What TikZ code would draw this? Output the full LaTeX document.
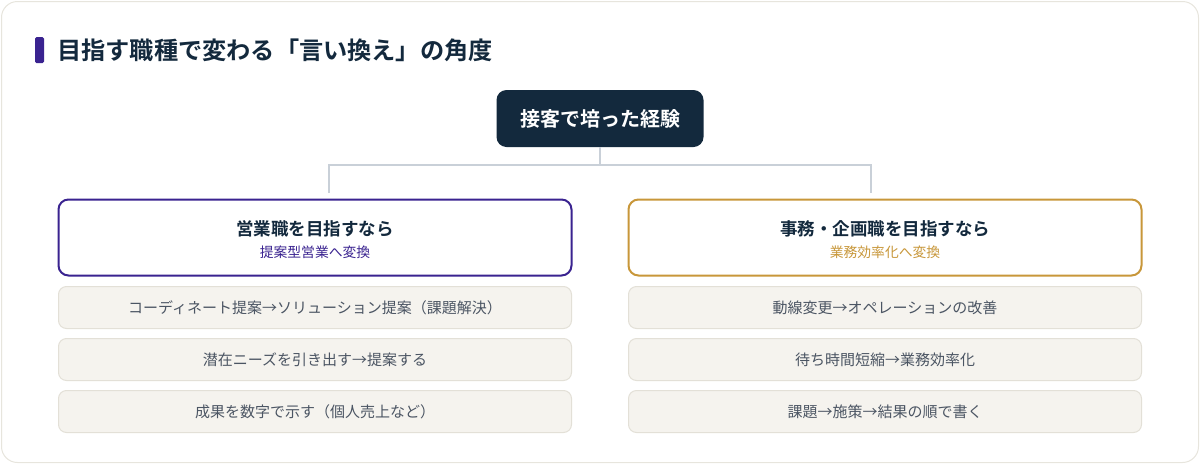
\documentclass[tikz,border=0pt]{standalone}
\usepackage{fontspec}
\setmainfont{Noto Sans CJK JP}[BoldFont={Noto Sans CJK JP Bold}]
\usepackage{color}
\definecolor{navy}{HTML}{13293D}
\definecolor{purp}{HTML}{3A2390}
\definecolor{gold}{HTML}{C8973A}
\definecolor{itemfill}{HTML}{F5F3EE}
\definecolor{itemline}{HTML}{E3E0D7}
\definecolor{itemtext}{HTML}{4B5563}
\definecolor{cardline}{HTML}{E7E5DD}
\definecolor{linkgray}{HTML}{C9D0D8}

\begin{document}
\begin{tikzpicture}[x=1pt,y=-1pt,
  head/.style={draw,line width=2pt,fill=white,rounded corners=10pt,
    minimum width=513pt,minimum height=76pt,inner sep=0pt,align=center},
  item/.style={draw=itemline,line width=1pt,fill=itemfill,rounded corners=8pt,
    minimum width=513pt,minimum height=42pt,inner sep=0pt,
    text=itemtext,font=\fontsize{15}{18}\selectfont},
  link/.style={draw=linkgray,line width=1.5pt}]
  \useasboundingbox (0,0) rectangle (1200,464);
  \draw[cardline,fill=white,line width=1pt,rounded corners=16pt] (1.5,1.5) rectangle (1198.5,462.5);
  % title
  \fill[purp,rounded corners=1.5pt] (35,37) rectangle (44,63);
  \node (title) [anchor=west,inner sep=0pt,text=navy,font=\bfseries\fontsize{24.2}{28}\selectfont]
    at (57,50) {目指す職種で変わる「言い換え」の角度};
  % root
  \node (root) [fill=navy,rounded corners=10pt,minimum width=207pt,minimum height=57pt,
    inner sep=0pt,text=white,font=\bfseries\fontsize{20}{24}\selectfont]
    at (600,118.5) {接客で培った経験};
  \coordinate (mid) at (600,165);
  \coordinate (ltop) at (329,193);
  \coordinate (rtop) at (871,193);
  \draw[link] (root) -- (mid);
  \draw[link] (ltop) |- (mid) -| (rtop);
  % two targets
  \node (sales) [head,draw=purp] at (315,237.5)
    {{\bfseries\fontsize{17.5}{21}\selectfont\color{navy}\rule{0pt}{19pt}営業職を目指すなら}\\[7pt]
     {\fontsize{13.8}{17}\selectfont\color{purp}提案型営業へ変換}};
  \node (office) [head,draw=gold] at (885,237.5)
    {{\bfseries\fontsize{17.5}{21}\selectfont\color{navy}\rule{0pt}{19pt}事務・企画職を目指すなら}\\[7pt]
     {\fontsize{13.8}{17}\selectfont\color{gold}業務効率化へ変換}};
  % items
  \node (s1) [item] at (315,307.5) {コーディネート提案→ソリューション提案（課題解決）};
  \node (s2) [item] at (315,359.5) {潜在ニーズを引き出す→提案する};
  \node (s3) [item] at (315,411.5) {成果を数字で示す（個人売上など）};
  \node (o1) [item] at (885,307.5) {動線変更→オペレーションの改善};
  \node (o2) [item] at (885,359.5) {待ち時間短縮→業務効率化};
  \node (o3) [item] at (885,411.5) {課題→施策→結果の順で書く};
\end{tikzpicture}
\end{document}
